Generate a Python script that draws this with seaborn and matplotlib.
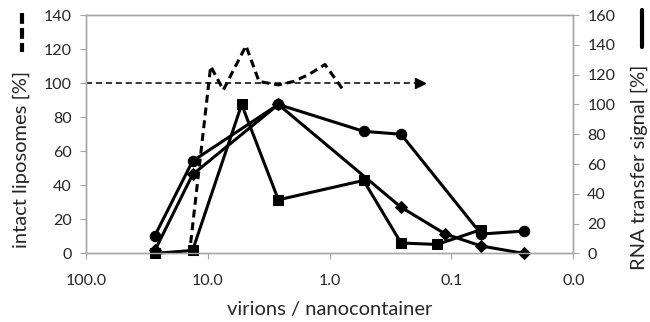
import matplotlib
matplotlib.use("Agg")
import numpy as np
import pandas as pd
import matplotlib.pyplot as plt
import seaborn as sns
from matplotlib.lines import Line2D
from matplotlib.ticker import NullLocator

# RNA transfer signal (right axis), three experiments
circle_x = [27.1, 13.3, 2.63, 0.526, 0.259, 0.057, 0.0255]
circle_y = [12, 62, 100, 82, 80, 13, 15]
square_x = [27.1, 13.3, 5.26, 2.63, 0.526, 0.259, 0.131, 0.057]
square_y = [0, 2, 100, 36, 49, 7, 6, 16]
diamond_x = [27.1, 13.3, 2.63, 0.259, 0.112, 0.057, 0.0255]
diamond_y = [2, 53, 100, 31, 13, 5, 0]

# intact liposomes (left axis, dashed)
lipo_x = [14.0, 9.45, 7.44, 4.85, 3.79, 2.63, 1.98, 1.49, 1.09, 0.79]
lipo_y = [2, 110, 96, 122, 101, 99, 101, 105, 111, 97]

# 100 % reference arrow
ref_level = 100
ref_start = 100
ref_end = 0.18

xticks = [100, 10, 1, 0.1, 0.01]
xtick_labels = ["100.0", "10.0", "1.0", "0.1", "0.0"]
left_ticks = [0, 20, 40, 60, 80, 100, 120, 140]
right_ticks = [0, 20, 40, 60, 80, 100, 120, 140, 160]

sns.set_style("white")
plt.rcParams["font.family"] = ["Lato", "DejaVu Sans"]

grey = "#a6a6a6"
fig, ax = plt.subplots(figsize=(6.5, 3.22), dpi=100)
fig.subplots_adjust(left=0.132, right=0.882, bottom=0.213, top=0.953)
ax.set_xscale("log")
ax2 = ax.twinx()

lipo = pd.DataFrame({"x": lipo_x, "y": lipo_y})
sns.lineplot(data=lipo, x="x", y="y", ax=ax, color="black", lw=2.2,
             linestyle=(0, (2.6, 1.6)), clip_on=False)

# reference line with arrow head
ax.plot([ref_start, ref_end], [ref_level, ref_level], color="black", lw=1.1,
        ls=(0, (4, 2.5)))
ax.plot([ref_end], [ref_level], marker=">", ms=7, color="black")

series = [(circle_x, circle_y, "o", 7.5),
          (square_x, square_y, "s", 6.5),
          (diamond_x, diamond_y, "D", 6.5)]
for xs, ys, m, ms in series:
    sns.lineplot(x=xs, y=ys, ax=ax2, color="black", lw=2.2, marker=m,
                 markersize=ms, markeredgecolor="black", clip_on=False)

ax.set_xlim(100, 0.01)
ax.set_ylim(0, 140)
ax2.set_ylim(0, 160)
ax.set_xticks(xticks, xtick_labels)
ax.xaxis.set_minor_locator(NullLocator())
ax.set_yticks(left_ticks)
ax2.set_yticks(right_ticks)

for a in (ax, ax2):
    for sp in a.spines.values():
        sp.set_color(grey)
        sp.set_linewidth(1)
ax.tick_params(axis="x", bottom=True, direction="out", length=4, color=grey,
               labelsize=11.5, pad=11)
ax.tick_params(axis="y", left=True, direction="out", length=4, color=grey,
               labelsize=11.5, pad=6)
ax2.tick_params(axis="y", right=True, direction="out", length=4, color=grey,
                labelsize=11.5, pad=6)

ax.set_xlabel("virions / nanocontainer", fontsize=14.5, labelpad=9)
ax.set_ylabel("intact liposomes [%]", fontsize=14.5)
ax.yaxis.set_label_coords(-0.115, 0.396)
ax2.set_ylabel("RNA transfer signal [%]", fontsize=14.5)
ax2.yaxis.set_label_coords(1.117, 0.362)

# axis style keys next to the labels
fig.add_artist(Line2D([0.034, 0.034], [0.96, 0.839], lw=3, color="black",
                      ls=(0, (2.6, 1.0)), transform=fig.transFigure))
fig.add_artist(Line2D([0.987, 0.987], [0.969, 0.854], lw=3, color="black",
                      transform=fig.transFigure))

fig.savefig("out.png", dpi=100)
